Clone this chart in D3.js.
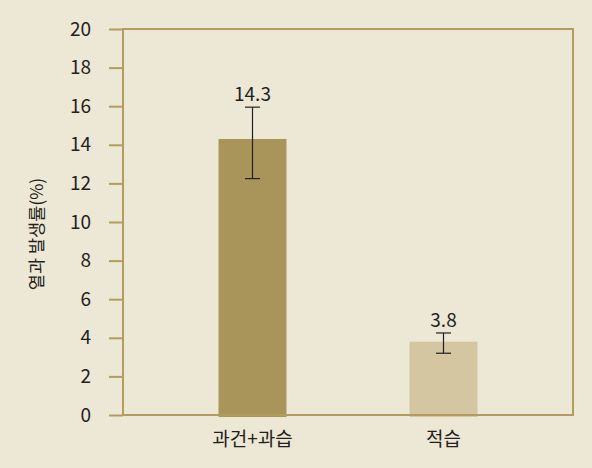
<!DOCTYPE html>
<html><head><meta charset="utf-8">
<script src="https://cdn.jsdelivr.net/npm/d3@7"></script>
<style>
html,body{margin:0;padding:0;background:#ede7d6;}
svg{display:block;}
text{font-family:"Noto Sans CJK KR","Noto Sans",sans-serif;fill:#231f20;}
</style></head>
<body>
<svg id="c" width="592" height="468"></svg>
<script>
const categories = ["과건+과습", "적습"];
const values = [14.3, 3.8];
const errLow = [12.25, 3.2];
const errHigh = [15.95, 4.25];
const yTicks = [0, 2, 4, 6, 8, 10, 12, 14, 16, 18, 20];
const yLabel = "열과 발생률(%)";
const barColors = ["#a9955a", "#d3c6a1"];

const svg = d3.select("#c");
const m = {l:123, t:29, r:19, b:53};
const W = 592, H = 468;
const iw = W - m.l - m.r, ih = H - m.t - m.b;
const axisColor = "#b39d5e";

svg.append("rect").attr("width", W).attr("height", H).attr("fill", "#ede7d6");

const x = d3.scaleBand().domain(categories).range([m.l, m.l + iw]).paddingInner(0.644).paddingOuter(0.5);
const y = d3.scaleLinear().domain([0, 20]).range([m.t + ih, m.t]);

// bars
svg.selectAll("rect.bar").data(values).enter().append("rect")
  .attr("class", "bar")
  .attr("x", (d, i) => x(categories[i]))
  .attr("width", x.bandwidth())
  .attr("y", d => y(d))
  .attr("height", d => y(0) - y(d) + 2)
  .attr("fill", (d, i) => barColors[i]);

// frame
svg.append("rect").attr("x", m.l).attr("y", m.t).attr("width", iw).attr("height", ih)
  .attr("fill", "none").attr("stroke", axisColor).attr("stroke-width", 2);

// y axis
const yAxis = d3.axisLeft(y).tickValues(yTicks).tickSize(14).tickPadding(18).tickFormat(d3.format("d"));
const ga = svg.append("g").attr("transform", `translate(${m.l},0)`).call(yAxis);
ga.select(".domain").remove();
ga.selectAll(".tick line").attr("stroke", axisColor).attr("stroke-width", 2);
ga.selectAll(".tick text").attr("font-size", 19).style("fill", "#231f20")
  .attr("font-family", '"Noto Sans CJK KR","Noto Sans",sans-serif');

// error bars
const cx = i => x(categories[i]) + x.bandwidth() / 2;
const eg = svg.append("g").attr("stroke", "#231f20").attr("stroke-width", 1.2);
values.forEach((v, i) => {
  eg.append("line").attr("x1", cx(i)).attr("x2", cx(i)).attr("y1", y(errLow[i])).attr("y2", y(errHigh[i]));
  eg.append("line").attr("x1", cx(i) - 7.5).attr("x2", cx(i) + 7.5).attr("y1", y(errLow[i])).attr("y2", y(errLow[i]));
  eg.append("line").attr("x1", cx(i) - 7.5).attr("x2", cx(i) + 7.5).attr("y1", y(errHigh[i])).attr("y2", y(errHigh[i]));
});

// value labels
svg.selectAll("text.val").data(values).enter().append("text")
  .attr("class", "val")
  .attr("x", (d, i) => cx(i))
  .attr("y", (d, i) => y(errHigh[i]) - 6)
  .attr("text-anchor", "middle").attr("font-size", 19)
  .text(d => d.toFixed(1));

// x labels
svg.selectAll("text.cat").data(categories).enter().append("text")
  .attr("class", "cat")
  .attr("x", d => x(d) + x.bandwidth() / 2)
  .attr("y", 446)
  .attr("text-anchor", "middle").attr("font-size", 19)
  .text(d => d);

// y label
svg.append("text").attr("transform", "translate(43,234) rotate(-90)")
  .attr("text-anchor", "middle").attr("font-size", 17.5).text(yLabel);
</script>
</body></html>
